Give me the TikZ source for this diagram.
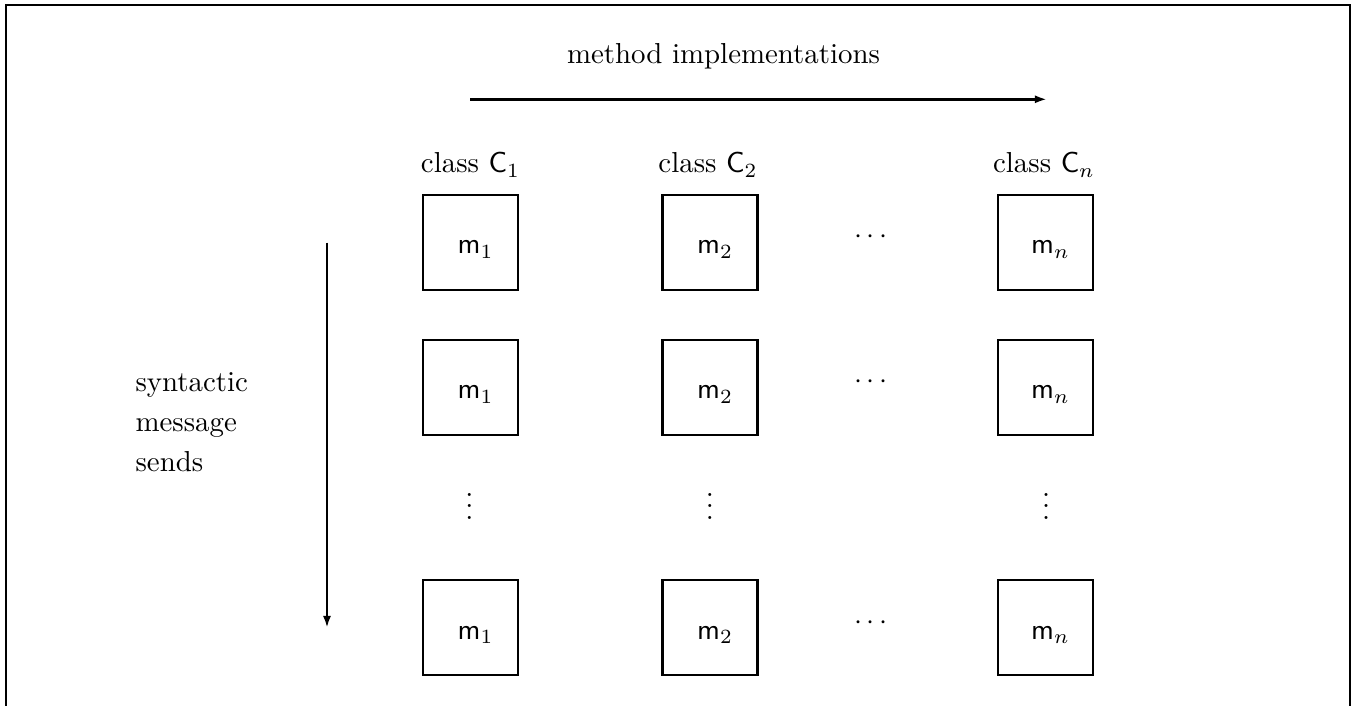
\documentclass[tikz,border=0pt]{standalone}
\usetikzlibrary{arrows.meta}
\begin{document}
\begin{tikzpicture}[x=0.3463pt,y=-0.3463pt,
  frame/.style={line width=0.95pt},
  cell/.style={draw,line width=0.95pt,minimum size=32.9pt,inner sep=0pt},
  lbl/.style={anchor=base,inner sep=0pt},
  side/.style={anchor=base west,inner sep=0pt},
  arr/.style={line width=0.85pt,-{Latex[length=4.2pt,width=2.8pt]}}]
\useasboundingbox (0,0) rectangle (1355,706);
\draw[frame] (6,706) -- (6,5) -- (1350,5) -- (1350,706);

% title and top arrow
\node[lbl] (title) at (723.5,64) {method implementations};
\coordinate (ha) at (470,99.3);
\coordinate (hb) at (1047,99.3);
\draw[arr] (ha) -- (hb);

% class labels
\node[lbl] (c1) at (470.5,173) {class $\mathsf{C}_1$};
\node[lbl] (c2) at (708,173) {class $\mathsf{C}_2$};
\node[lbl] (cn) at (1044,173) {class $\mathsf{C}_n$};

% boxes
\foreach \r/\y in {1/242.5,2/387.5,4/627.5}{
  \node[cell] (b\r a) at (470.5,\y) {};
  \node[cell] (b\r b) at (710,\y) {};
  \node[cell] (b\r c) at (1045.5,\y) {};
  \node[lbl] (m\r a) at ([shift={(5,11.5)}]b\r a.center) {$\mathsf{m}_1$};
  \node[lbl] (m\r b) at ([shift={(5,11.5)}]b\r b.center) {$\mathsf{m}_2$};
  \node[lbl] (m\r c) at ([shift={(5,11.5)}]b\r c.center) {$\mathsf{m}_n$};
  \node[lbl] (h\r) at (871,\y+1.5) {$\cdots$};
}

% vertical dots
\node[lbl] (va) at (469.5,519.5) {\vdots};
\node[lbl] (vb) at (710,519.5) {\vdots};
\node[lbl] (vc) at (1046,519.5) {\vdots};

% left label and arrow
\node[side] (s1) at (135,392) {syntactic};
\node[side] (s2) at (135,432) {message};
\node[side] (s3) at (135,472) {sends};
\coordinate (va1) at (327,242.7);
\coordinate (vb1) at (327,628);
\draw[arr] (va1) -- (vb1);
\end{tikzpicture}
\end{document}
